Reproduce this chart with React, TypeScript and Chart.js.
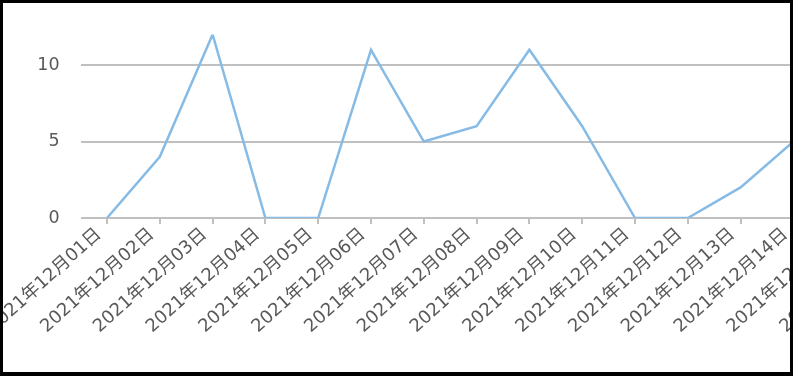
import React, { useEffect, useRef } from "react";
import { Chart, registerables } from "chart.js";

Chart.register(...registerables);

const categories = [
  "2021年12月01日", "2021年12月02日", "2021年12月03日", "2021年12月04日",
  "2021年12月05日", "2021年12月06日", "2021年12月07日", "2021年12月08日",
  "2021年12月09日", "2021年12月10日", "2021年12月11日", "2021年12月12日",
  "2021年12月13日", "2021年12月14日", "2021年12月15日", "2021年12月16日",
];
const seriesValues = [0, 4, 12, 0, 0, 11, 5, 6, 11, 6, 0, 0, 2, 5, 3, 1];
const yTickValues = [0, 5, 10];

const CANVAS_W = 930;
const CANVAS_H = 369;

export default function App() {
  const ref = useRef<HTMLCanvasElement | null>(null);
  useEffect(() => {
    if (!ref.current) return;
    const chart = new Chart(ref.current, {
      type: "line",
      data: {
        labels: categories,
        datasets: [
          {
            data: seriesValues,
            borderColor: "#86bbe6",
            borderWidth: 2.5,
            pointRadius: 0,
            tension: 0,
            fill: false,
          },
        ],
      },
      options: {
        responsive: false,
        animation: false,
        devicePixelRatio: 1,
        layout: { padding: { left: 0, top: 29, right: 7.6, bottom: 0 } },
        plugins: { legend: { display: false }, tooltip: { enabled: false } },
        scales: {
          x: {
            type: "category",
            offset: true,
            grid: {
              offset: false,
              drawOnChartArea: false,
              drawTicks: true,
              tickLength: 6,
              color: "#c0c0c0",
              lineWidth: 2,
            },
            border: { display: false },
            ticks: {
              autoSkip: false,
              minRotation: 42,
              maxRotation: 42,
              padding: 0,
              labelOffset: -8,
              color: "#595959",
              font: { family: "'DejaVu Sans', 'Noto Sans CJK JP'", size: 18 },
            },
            afterFit: (scale: any) => {
              scale.height = CANVAS_H - 215;
              scale.paddingLeft = 0;
              scale.paddingRight = 0;
              scale.paddingTop = 0;
              scale.paddingBottom = 0;
            },
          },
          y: {
            min: 0,
            max: 12,
            grid: { drawTicks: false, color: "#c0c0c0", lineWidth: 2 },
            border: { display: false },
            ticks: {
              padding: 21,
              color: "#595959",
              font: { family: "'DejaVu Sans', 'Noto Sans CJK JP'", size: 17.5 },
            },
            afterBuildTicks: (scale: any) => {
              scale.ticks = yTickValues.map((v) => ({ value: v }));
            },
            afterFit: (scale: any) => {
              scale.width = 77.6;
            },
          },
        },
      },
    });
    return () => chart.destroy();
  }, []);

  return (
    <div
      style={{
        position: "fixed",
        left: 0,
        top: 0,
        width: 793,
        height: 376,
        boxSizing: "border-box",
        borderTop: "3px solid #000",
        borderLeft: "3px solid #000",
        borderRight: "3px solid #000",
        borderBottom: "4px solid #000",
        overflow: "hidden",
        background: "#fff",
      }}
    >
      <canvas
        ref={ref}
        width={CANVAS_W}
        height={CANVAS_H}
        style={{ display: "block", width: CANVAS_W, height: CANVAS_H }}
      />
    </div>
  );
}
